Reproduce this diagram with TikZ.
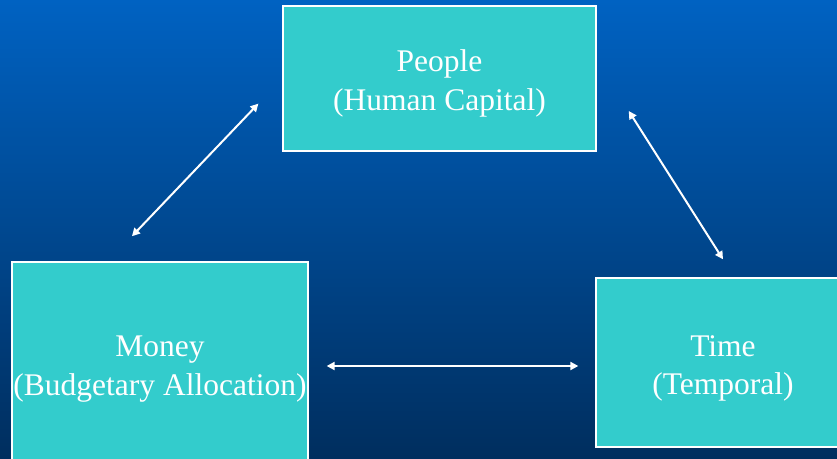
\documentclass[tikz,border=0pt]{standalone}
\usepackage{fontspec}
\setmainfont{Liberation Serif}
\usetikzlibrary{arrows.meta}
\definecolor{bgtop}{HTML}{0062C2}
\definecolor{bgbottom}{HTML}{002E5E}
\definecolor{boxteal}{HTML}{33CCCC}
\newcommand{\boxfont}{\fontsize{31.5bp}{38.5bp}\selectfont}

\begin{document}
\begin{tikzpicture}[x=1bp, y=-1bp,
    box/.style={rectangle, draw=white, line width=1.3bp, fill=boxteal,
      text=white, align=center, inner sep=0pt, font=\boxfont},
    link/.style={{Triangle[length=8bp,width=8bp]}-{Triangle[length=8bp,width=8bp]},
      white, line width=2bp}]

      \useasboundingbox (0,0) rectangle (837,459);
      \shade [top color=bgtop, bottom color=bgbottom] (0,0) rectangle (837,459);
      \clip (0,0) rectangle (837,459);

      \node [box, minimum width=313bp, minimum height=145bp, text height=70bp] (people) at (439.5,78.5)
      {People\\(Human Capital)};
      \node [box, minimum width=296bp, minimum height=208bp, text height=65bp] (money) at (160,366)
      {Money\\(Budgetary Allocation)};
      \node [box, minimum width=254bp, minimum height=169bp, text height=71bp] (time) at (723,362.5)
      {Time\\(Temporal)};

      \draw [link, shorten <=34.7bp, shorten >=34.7bp]
      ([xshift=-52bp]money.north) -- (people.west);
      \draw [link, shorten <=59.8bp]
      ([yshift=18bp]people.east) -- ([yshift=18bp]time.north);
      \draw [link, shorten <=18bp, shorten >=17bp]
      (money.east) -- (money.east -| time.west);

    \end{tikzpicture}
\end{document}
